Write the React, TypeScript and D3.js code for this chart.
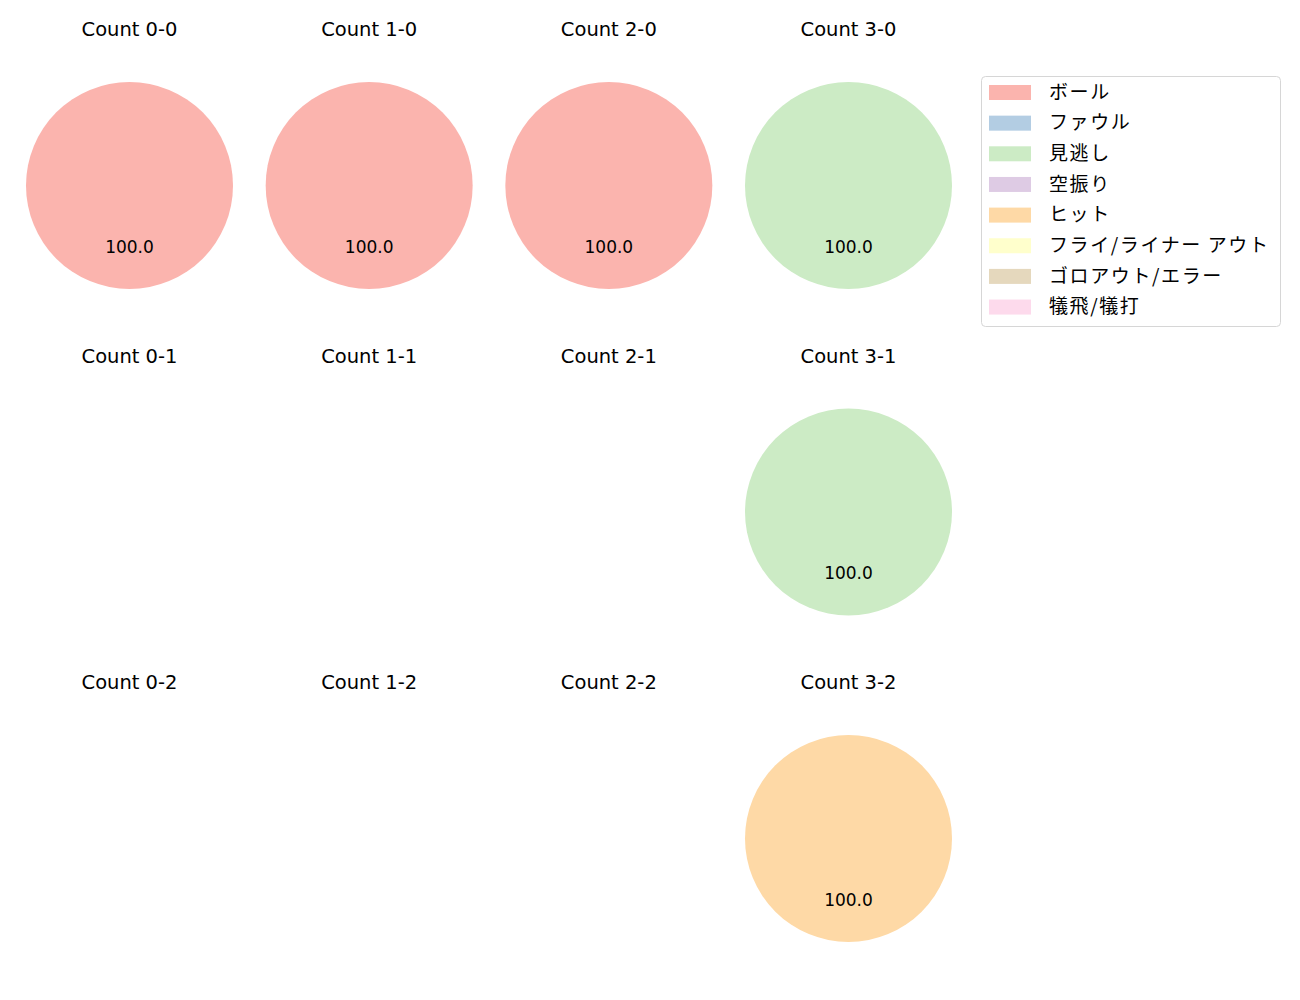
import * as d3 from 'd3';

const categories = ['ボール', 'ファウル', '見逃し', '空振り', 'ヒット', 'フライ/ライナー アウト', 'ゴロアウト/エラー', '犠飛/犠打'];
const colors = ['#fbb4ae', '#b3cde3', '#ccebc5', '#decbe4', '#fed9a6', '#ffffcc', '#e5d8bd', '#fddaec'];

const balls = [0, 1, 2, 3];
const strikes = [0, 1, 2];

// values per category for each count (balls-strikes)
const pitches00 = [1, 0, 0, 0, 0, 0, 0, 0];
const pitches10 = [1, 0, 0, 0, 0, 0, 0, 0];
const pitches20 = [1, 0, 0, 0, 0, 0, 0, 0];
const pitches30 = [0, 0, 1, 0, 0, 0, 0, 0];
const pitches01 = [0, 0, 0, 0, 0, 0, 0, 0];
const pitches11 = [0, 0, 0, 0, 0, 0, 0, 0];
const pitches21 = [0, 0, 0, 0, 0, 0, 0, 0];
const pitches31 = [0, 0, 1, 0, 0, 0, 0, 0];
const pitches02 = [0, 0, 0, 0, 0, 0, 0, 0];
const pitches12 = [0, 0, 0, 0, 0, 0, 0, 0];
const pitches22 = [0, 0, 0, 0, 0, 0, 0, 0];
const pitches32 = [0, 0, 0, 0, 1, 0, 0, 0];

const countData: Record<string, number[]> = {
  '0-0': pitches00, '1-0': pitches10, '2-0': pitches20, '3-0': pitches30,
  '0-1': pitches01, '1-1': pitches11, '2-1': pitches21, '3-1': pitches31,
  '0-2': pitches02, '1-2': pitches12, '2-2': pitches22, '3-2': pitches32,
};

const W = 1300;
const H = 1000;
const latin = "'DejaVu Sans', sans-serif";
const cjk = "'Noto Sans CJK JP', 'Noto Sans', sans-serif";

export default function App() {
  const x = d3.scalePoint<number>().domain(balls).range([129.5, 848.5]);
  const y = d3.scalePoint<number>().domain(strikes).range([185.5, 838.5]);
  const r = 103.5;
  const arc = d3.arc<d3.PieArcDatum<number>>().innerRadius(0).outerRadius(r);
  // start at 12 o'clock, counter-clockwise
  const pie = d3.pie<number>().sort(null).startAngle(0).endAngle(-2 * Math.PI);

  const legendX = 981.5;
  const legendY = 76.5;
  const rowH = 30.65;

  return (
    <svg width={W} height={H} style={{ position: 'absolute', left: 0, top: 0 }}>
      <rect width={W} height={H} fill="#fff" />
      {strikes.map(s =>
        balls.map(b => {
          const key = `${b}-${s}`;
          const vals = countData[key];
          const total = d3.sum(vals);
          const cx = x(b)!;
          const cy = y(s)!;
          const arcs = total > 0 ? pie(vals) : [];
          return (
            <g key={key}>
              <text x={cx} y={cy - 155} textAnchor="middle" dominantBaseline="middle" fontFamily={latin} fontSize={19.5} fill="#000">
                {`Count ${key}`}
              </text>
              <g transform={`translate(${cx},${cy})`}>
                {arcs.filter(a => a.value > 0).map(a => (
                  <path key={a.index} d={arc(a)!} fill={colors[a.index]} />
                ))}
                {arcs.filter(a => a.value > 0).map(a => {
                  const mid = (a.startAngle + a.endAngle) / 2;
                  const lx = 0.6 * r * Math.sin(mid);
                  const ly = -0.6 * r * Math.cos(mid);
                  return (
                    <text key={'l' + a.index} x={lx} y={ly} textAnchor="middle" dominantBaseline="middle" fontFamily={latin} fontSize={17} fill="#000">
                      {((a.value / total) * 100).toFixed(1)}
                    </text>
                  );
                })}
              </g>
            </g>
          );
        })
      )}
      <g>
        <rect x={legendX} y={legendY} width={299} height={250} rx={4} fill="#fff" stroke="#d6d6d6" strokeWidth={1} />
        {categories.map((c, i) => (
          <g key={c} transform={`translate(0,${legendY + 16 + i * rowH})`}>
            <rect x={989} y={-7.5} width={42} height={15} fill={colors[i]} />
            <text x={1049} y={1} dominantBaseline="middle" fontFamily={cjk} fontSize={19} letterSpacing={1.6} fill="#000">{c}</text>
          </g>
        ))}
      </g>
    </svg>
  );
}
